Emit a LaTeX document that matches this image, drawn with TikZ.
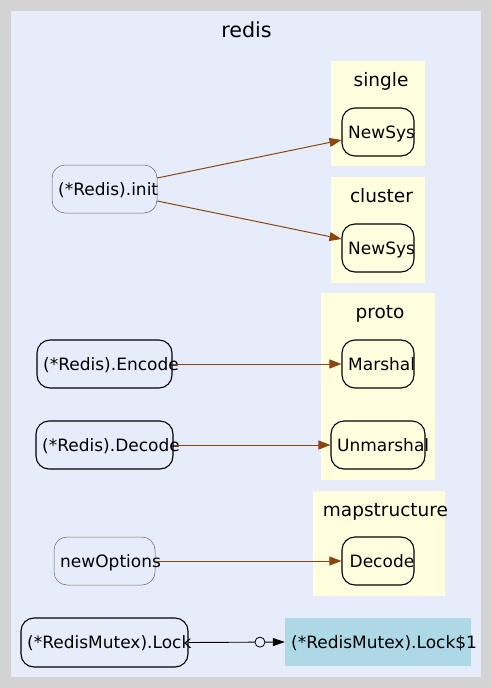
\documentclass[tikz,border=0pt]{standalone}
\usepackage{fontspec}
\setmainfont{DejaVu Sans}
\usetikzlibrary{arrows.meta}
\definecolor{bggray}{HTML}{D3D3D3}
\definecolor{redisbg}{HTML}{E6ECFA}
\definecolor{pkgbg}{HTML}{FFFFE0}
\definecolor{lblue}{HTML}{ADD8E6}
\definecolor{edgec}{HTML}{8B4513}
\begin{document}
\begin{tikzpicture}[x=1pt,y=-1pt,
  box/.style={draw=black, line width=1.1pt, rounded corners=13pt, minimum height=48pt, inner sep=0pt},
  thinbox/.style={draw=black!60, line width=0.5pt, rounded corners=13pt, minimum height=48pt, inner sep=0pt},
  txt/.style={anchor=base west, inner sep=0pt, font=\fontsize{17}{20}\selectfont},
  ttl/.style={anchor=base, inner sep=0pt, font=\fontsize{18.5}{22}\selectfont},
  bigttl/.style={anchor=base, inner sep=0pt, font=\fontsize{20.7}{24}\selectfont},
  call/.style={draw=edgec, line width=1pt, -{Triangle[length=12pt,width=9pt]}},
  pkg/.style={fill=pkgbg},
]
\useasboundingbox (0,0) rectangle (492,688);
\fill[bggray] (0,0) rectangle (492,688);
\fill[redisbg] (11,11) rectangle (481,677);
\node[bigttl] (tredis) at (246.5,37) {redis};

% package clusters
\fill[pkg] (331,61) rectangle (425,166);
\node[ttl] (tsingle) at (381,86) {single};
\fill[pkg] (331,177) rectangle (425,283);
\node[ttl] (tcluster) at (381.5,202) {cluster};
\fill[pkg] (321,293) rectangle (435,480);
\node[ttl] (tproto) at (380,318) {proto};
\fill[pkg] (313,491) rectangle (445,596);
\node[ttl] (tmap) at (385.5,516) {mapstructure};

% nodes
\node[thinbox, minimum width=105pt] (init) at (104.5,189) {};
\node[txt] (initt) at (58,195) {(*Redis).init};
\node[box, minimum width=72pt] (ns1) at (378,132) {};
\node[txt] (ns1t) at (348,138) {NewSys};
\node[box, minimum width=72pt] (ns2) at (378,248) {};
\node[txt] (ns2t) at (348,254) {NewSys};
\node[box, minimum width=135pt] (enc) at (104.5,364) {};
\node[txt] (enct) at (43,370) {(*Redis).Encode};
\node[box, minimum width=72pt] (mar) at (378,364) {};
\node[txt] (mart) at (348,370) {Marshal};
\node[box, minimum width=137pt] (dec) at (104.5,445) {};
\node[txt] (dect) at (42,451) {(*Redis).Decode};
\node[box, minimum width=94pt] (unm) at (378,445) {};
\node[txt] (unmt) at (337,451) {Unmarshal};
\node[thinbox, minimum width=101pt] (newo) at (104.5,561) {};
\node[txt] (newot) at (60,567) {newOptions};
\node[box, minimum width=72pt] (dcd) at (378,561) {};
\node[txt] (dcdt) at (349.5,567) {Decode};
\node[box, minimum width=167pt, minimum height=49pt] (lock) at (104.5,642.5) {};
\node[txt] (lockt) at (27,648) {(*RedisMutex).Lock};
\node[fill=lblue, minimum width=186pt, minimum height=48pt, inner sep=0pt] (lock1) at (378,642) {};
\node[txt] (lock1t) at (291,648) {(*RedisMutex).Lock\$1};

% edges
\draw[call] ([yshift=11pt]init.east) -- ([yshift=-8pt]ns1.west);
\draw[call] ([yshift=-12pt]init.east) -- ([yshift=9pt]ns2.west);
\draw[call] (enc.east) -- (mar.west);
\draw[call] (dec.east) -- (unm.west);
\draw[call] (newo.east) -- (dcd.west);
\draw[black, line width=0.9pt, -{Triangle[length=12pt,width=8pt]}] (lock.east) -- node[pos=0.742, circle, draw=black, fill=redisbg, inner sep=0pt, minimum size=10pt, line width=0.8pt] (lockdot) {} (lock1.west);
\end{tikzpicture}
\end{document}
